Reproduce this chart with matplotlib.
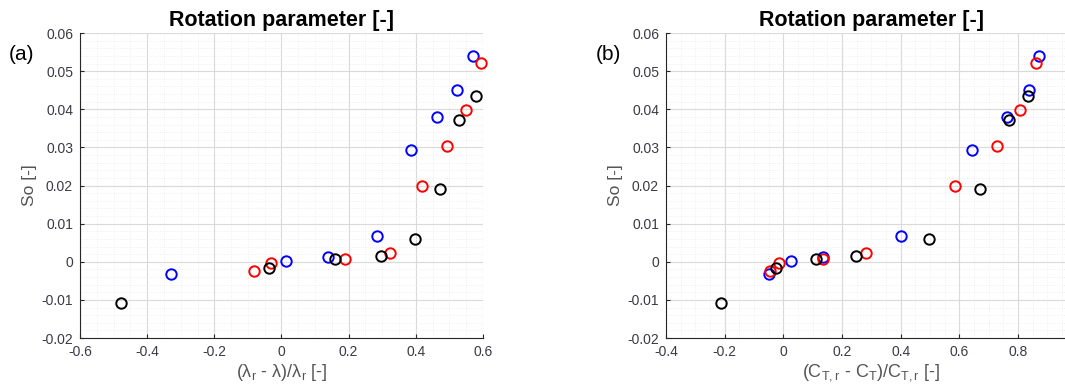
import numpy as np
import matplotlib
matplotlib.use("Agg")
import matplotlib.pyplot as plt
from matplotlib.ticker import MultipleLocator

plt.rcParams['font.family'] = ['Liberation Sans', 'DejaVu Sans']
plt.rcParams['mathtext.fontset'] = 'custom'
plt.rcParams['mathtext.rm'] = 'Liberation Sans'
plt.rcParams['mathtext.it'] = 'Liberation Sans'

# swirl number So for the three series (same values in both panels)
so_blue = [0.0540, 0.0450, 0.0380, 0.0292, 0.0067, 0.0013, 0.0003, -0.0031]
so_red = [0.0521, 0.0398, 0.0303, 0.0199, 0.0023, 0.0006, -0.0004, -0.0023]
so_black = [0.0436, 0.0373, 0.0190, 0.0061, 0.0015, 0.0006, -0.0016, -0.0109]

# (lambda_r - lambda)/lambda_r
tsr_blue = [0.571, 0.522, 0.462, 0.385, 0.284, 0.140, 0.012, -0.329]
tsr_red = [0.593, 0.550, 0.492, 0.419, 0.323, 0.189, -0.031, -0.081]
tsr_black = [0.578, 0.530, 0.472, 0.398, 0.297, 0.159, -0.036, -0.479]

# (CT_r - CT)/CT_r
ct_blue = [0.873, 0.838, 0.763, 0.642, 0.401, 0.136, 0.026, -0.050]
ct_red = [0.861, 0.808, 0.729, 0.584, 0.280, 0.136, -0.014, -0.044]
ct_black = [0.833, 0.770, 0.671, 0.498, 0.248, 0.111, -0.024, -0.211]

tick_col = '#3a3a44'
lab_col = '#555555'

fig = plt.figure(figsize=(10.65, 3.9), dpi=100)
ax1 = fig.add_axes([0.0751, 0.1333, 0.3784, 0.782])
ax2 = fig.add_axes([0.6254, 0.1333, 0.3856, 0.782])


def style(ax, xlim, xmajor):
    ax.set_xlim(xlim)
    ax.set_ylim(-0.02, 0.06)
    ax.xaxis.set_major_locator(MultipleLocator(xmajor))
    ax.xaxis.set_minor_locator(MultipleLocator(xmajor / 4))
    ax.yaxis.set_major_locator(MultipleLocator(0.01))
    ax.yaxis.set_minor_locator(MultipleLocator(0.002))
    ax.xaxis.set_major_formatter(plt.FuncFormatter(lambda v, p: f'{v:g}'))
    ax.yaxis.set_major_formatter(plt.FuncFormatter(lambda v, p: f'{v:g}'))
    ax.grid(which='major', color='#dadada', lw=0.8)
    ax.grid(which='minor', color='#ececec', lw=0.6, ls=':')
    ax.set_axisbelow(True)
    for s in ['top', 'right']:
        ax.spines[s].set_visible(False)
    for s in ['left', 'bottom']:
        ax.spines[s].set_color('#262626')
        ax.spines[s].set_linewidth(0.8)
    ax.tick_params(which='major', direction='in', length=3, width=0.8,
                   colors='#262626', labelcolor=tick_col, labelsize=10, pad=5)
    ax.tick_params(which='minor', length=0)
    ax.set_ylabel('So [-]', color=lab_col, fontsize=12.5, labelpad=3)
    ax.set_title('Rotation parameter [-]', fontsize=15.5, fontweight='bold', pad=5)


for ax, xb, xr, xk in [(ax1, tsr_blue, tsr_red, tsr_black),
                       (ax2, ct_blue, ct_red, ct_black)]:
    ax.plot(xb, so_blue, 'o', mfc='none', mec='#0000ff', ms=7.5, mew=1.4, clip_on=False)
    ax.plot(xr, so_red, 'o', mfc='none', mec='#ff0000', ms=7.5, mew=1.4, clip_on=False)
    ax.plot(xk, so_black, 'o', mfc='none', mec='#000000', ms=7.5, mew=1.4, clip_on=False)

style(ax1, (-0.6, 0.6), 0.2)
style(ax2, (-0.4, 1.0), 0.2)

ax1.set_xlabel('(λ$_r$ - λ)/λ$_r$ [-]', color=lab_col, fontsize=13, labelpad=2)
ax2.set_xlabel('(C$_{T,r}$ - C$_T$)/C$_{T,r}$ [-]', color=lab_col, fontsize=13, labelpad=2)

fig.text(0.008, 0.86, '(a)', fontsize=15, va='center', ha='left')
fig.text(0.559, 0.86, '(b)', fontsize=15, va='center', ha='left')

fig.savefig('out.png', dpi=100)
